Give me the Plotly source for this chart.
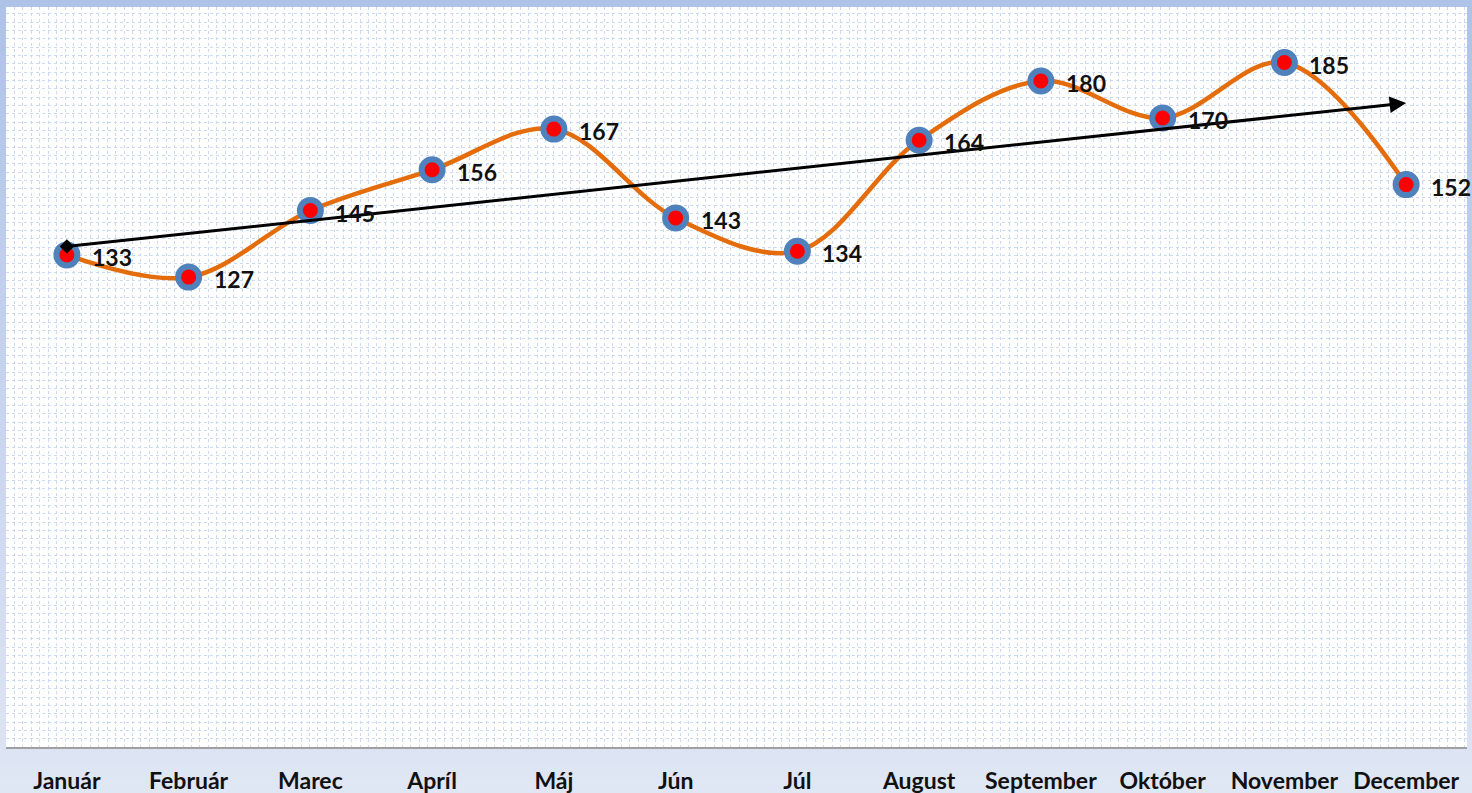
import numpy as np
import plotly.graph_objects as go

months = ["Január", "Február", "Marec", "Apríl", "Máj", "Jún", "Júl",
          "August", "September", "Október", "November", "December"]
values = [133, 127, 145, 156, 167, 143, 134, 164, 180, 170, 185, 152]

W, H = 1472, 793
ML, MR, MT, MB = 6, 5, 7, 46
PW, PH = W - ML - MR, H - MT - MB

xi = np.arange(len(months))
slope, icpt = np.polyfit(xi, values, 1)
t0 = icpt
t1 = icpt + slope * (len(months) - 1)

fig = go.Figure()

# grid helper subplot (pixel units)
fig.add_trace(go.Scatter(x=[None], y=[None], xaxis="x2", yaxis="y2",
                         showlegend=False, hoverinfo="skip"))

fig.add_trace(go.Scatter(
    x=xi, y=values, mode="lines+markers",
    line=dict(color="#e46c0a", width=4.5, shape="spline", smoothing=1.0),
    marker=dict(size=21, color="#ff0000", line=dict(color="#4f81bd", width=6)),
    showlegend=False, cliponaxis=False,
))

# diamond at start of trend arrow
fig.add_trace(go.Scatter(x=[0], y=[t0], mode="markers",
                         marker=dict(symbol="diamond", size=11, color="black"),
                         showlegend=False))

fig.add_annotation(x=len(months) - 1, y=t1, ax=0, ay=t0, xref="x", yref="y",
                   axref="x", ayref="y", showarrow=True, arrowhead=2,
                   arrowsize=1.1, arrowwidth=3, arrowcolor="black", text="")

# data labels
for xv, v in zip(xi, values):
    fig.add_annotation(x=xv, y=v, xref="x", yref="y", text=str(v), showarrow=False,
                       xanchor="left", yanchor="middle", xshift=23, yshift=-2,
                       font=dict(family="Lato", size=23, color="#111111", weight="bold"))

# background gradient strips (paper)
n = 60
c_top = np.array([0xaf, 0xc3, 0xe8])
c_bot = np.array([0xdf, 0xe6, 0xf4])
shapes = []
for i in range(n):
    f = i / (n - 1)
    c = (c_top * (1 - f) + c_bot * f).astype(int)
    y_top = 1 + MT / PH - (i / n) * (H / PH)
    y_bot = 1 + MT / PH - ((i + 1) / n) * (H / PH)
    shapes.append(dict(type="rect", xref="paper", yref="paper",
                       x0=-ML / PW - 0.01, x1=1 + MR / PW + 0.01,
                       y0=y_bot - 0.002, y1=y_top + 0.002, layer="below",
                       line=dict(width=0),
                       fillcolor="rgb(%d,%d,%d)" % tuple(c)))
# white plot area
shapes.append(dict(type="rect", xref="paper", yref="paper", x0=0, x1=1, y0=0, y1=1,
                   layer="below", line=dict(width=0), fillcolor="white"))

fig.update_layout(
    width=W, height=H,
    margin=dict(l=ML, r=MR, t=MT, b=MB, autoexpand=False),
    paper_bgcolor="#c8d5ee", plot_bgcolor="white",
    shapes=shapes,
    xaxis=dict(range=[-0.5, len(months) - 0.5], tickvals=list(xi), ticktext=months,
               showgrid=False, zeroline=False, showline=True, linecolor="#a0a0a0",
               linewidth=2, ticks="", ticklabelstandoff=12, automargin=False,
               tickfont=dict(family="Lato", size=23, color="#111111", weight="bold")),
    yaxis=dict(range=[0, 200], showgrid=False, zeroline=False, showticklabels=False,
               ticks="", automargin=False),
    xaxis2=dict(overlaying="x", range=[0, PW], dtick=8.43, showgrid=True,
                gridcolor="#cbdaf0", griddash="dot", gridwidth=1, automargin=False,
                showticklabels=False, zeroline=False, ticks=""),
    yaxis2=dict(overlaying="y", range=[0, PH], dtick=8.33, showgrid=True,
                gridcolor="#cbdaf0", griddash="dot", gridwidth=1, automargin=False,
                showticklabels=False, zeroline=False, ticks=""),
)

fig.write_html("out.html", config={"displayModeBar": False},
               post_script="document.body.style.margin='0';document.body.style.padding='0';")
